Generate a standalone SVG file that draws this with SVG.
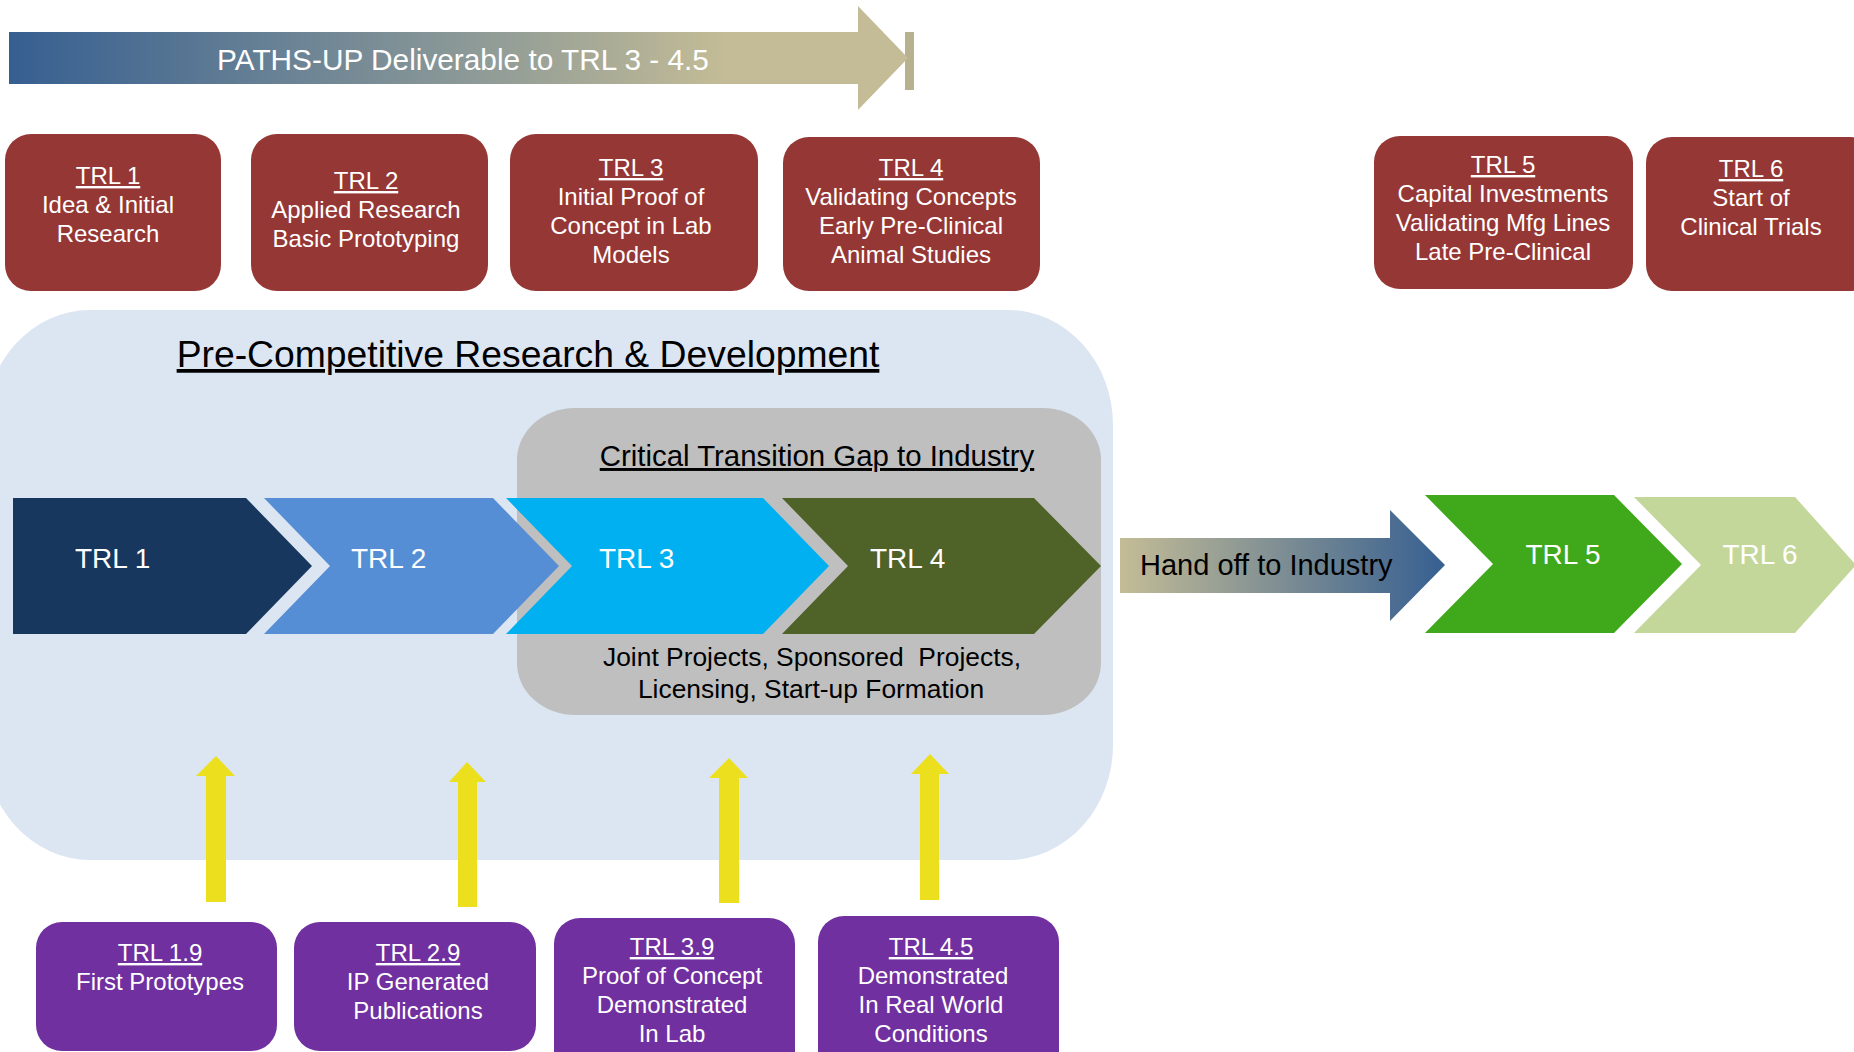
<svg xmlns="http://www.w3.org/2000/svg" width="1854" height="1052" viewBox="0 0 1854 1052">
<style>
text{font-family:"Liberation Sans",Arial,sans-serif}
.red{fill:#953735}
.pur{fill:#7030a0}
.bt{fill:#fff;font-size:24px;text-anchor:middle}
.u{text-decoration:underline}
.chev{fill:#fff;font-size:28px}
.yel{fill:#ebdf1e}
</style>
<defs>
<linearGradient id="gTop" gradientUnits="userSpaceOnUse" x1="9" y1="0" x2="908" y2="0">
<stop offset="0" stop-color="#365f91"/>
<stop offset="0.5" stop-color="#8a9897"/>
<stop offset="0.8" stop-color="#c4bc96"/>
<stop offset="1" stop-color="#c4bc96"/>
</linearGradient>
<linearGradient id="gHand" gradientUnits="userSpaceOnUse" x1="1120" y1="0" x2="1445" y2="0">
<stop offset="0" stop-color="#c4bc96"/>
<stop offset="1" stop-color="#365f91"/>
</linearGradient>
</defs>
<rect width="1854" height="1052" fill="#fff"/>

<g id="paths-up-arrow">
<rect x="905" y="32" width="9" height="58" fill="#b8b190"/>
<path d="M9,32 H858 V6 L908,58 L858,110 V84 H9 Z" fill="url(#gTop)"/>
<text x="463" y="70" fill="#fff" font-size="29.8" text-anchor="middle">PATHS-UP Deliverable to TRL 3 - 4.5</text>
</g>

<g id="box-trl1">
<rect class="red" x="5" y="134" width="216" height="157" rx="26"/>
<text class="bt"><tspan class="u" x="108" y="184">TRL 1</tspan><tspan x="108" y="213">Idea &amp; Initial</tspan><tspan x="108" y="242">Research</tspan></text>
</g>
<g id="box-trl2">
<rect class="red" x="251" y="134" width="237" height="157" rx="26"/>
<text class="bt"><tspan class="u" x="366" y="189">TRL 2</tspan><tspan x="366" y="218">Applied Research</tspan><tspan x="366" y="247">Basic Prototyping</tspan></text>
</g>
<g id="box-trl3">
<rect class="red" x="510" y="134" width="248" height="157" rx="26"/>
<text class="bt"><tspan class="u" x="631" y="176">TRL 3</tspan><tspan x="631" y="205">Initial Proof of</tspan><tspan x="631" y="234">Concept in Lab</tspan><tspan x="631" y="263">Models</tspan></text>
</g>
<g id="box-trl4">
<rect class="red" x="783" y="137" width="257" height="154" rx="26"/>
<text class="bt"><tspan class="u" x="911" y="176">TRL 4</tspan><tspan x="911" y="205">Validating Concepts</tspan><tspan x="911" y="234">Early Pre-Clinical</tspan><tspan x="911" y="263">Animal Studies</tspan></text>
</g>
<g id="box-trl5">
<rect class="red" x="1374" y="136" width="259" height="153" rx="26"/>
<text class="bt"><tspan class="u" x="1503" y="173">TRL 5</tspan><tspan x="1503" y="202">Capital Investments</tspan><tspan x="1503" y="231">Validating Mfg Lines</tspan><tspan x="1503" y="260">Late Pre-Clinical</tspan></text>
</g>
<g id="box-trl6">
<rect class="red" x="1646" y="137" width="230" height="154" rx="26"/>
<text class="bt"><tspan class="u" x="1751" y="177">TRL 6</tspan><tspan x="1751" y="206">Start of</tspan><tspan x="1751" y="235">Clinical Trials</tspan></text>
</g>

<g id="pre-competitive">
<rect x="-15" y="310" width="1128" height="550" rx="105" ry="115" fill="#dce6f2"/>
<text x="528" y="367" font-size="37.3" text-anchor="middle" fill="#000" class="u">Pre-Competitive Research &amp; Development</text>
</g>

<g id="transition-gap">
<rect x="517" y="408" width="584" height="307" rx="58" ry="52" fill="#bfbfbf"/>
<text x="817" y="466" font-size="29.4" text-anchor="middle" fill="#000" class="u">Critical Transition Gap to Industry</text>
<text font-size="26.4" text-anchor="middle" fill="#000" xml:space="preserve"><tspan x="812" y="666">Joint Projects, Sponsored  Projects,</tspan><tspan x="811" y="698">Licensing, Start-up Formation</tspan></text>
</g>

<g id="chev-trl1">
<path d="M13,498 H246 L312,566 L246,634 H13 Z" fill="#17375e"/>
<text class="chev" x="75" y="568">TRL 1</text>
</g>
<g id="chev-trl2">
<path d="M264,498 H493 L559,566 L493,634 H264 L330,566 Z" fill="#558ed5"/>
<text class="chev" x="351" y="568">TRL 2</text>
</g>
<g id="chev-trl3">
<path d="M506,498 H763 L829,566 L763,634 H506 L572,566 Z" fill="#00b0f0"/>
<text class="chev" x="599" y="568">TRL 3</text>
</g>
<g id="chev-trl4">
<path d="M782,498 H1034 L1101,566 L1034,634 H782 L848,566 Z" fill="#4f6228"/>
<text class="chev" x="870" y="568">TRL 4</text>
</g>

<g id="hand-off">
<path d="M1120,538 H1390 V510 L1445,565 L1390,621 V593 H1120 Z" fill="url(#gHand)"/>
<text x="1140" y="575" font-size="29" fill="#000">Hand off to Industry</text>
</g>

<g id="chev-trl5">
<path d="M1425,495 H1614 L1682,564 L1614,633 H1425 L1493,564 Z" fill="#40a91b"/>
<text class="chev" x="1563" y="564" text-anchor="middle">TRL 5</text>
</g>
<g id="chev-trl6">
<path d="M1634,497 H1795 L1856,565 L1795,633 H1634 L1701,565 Z" fill="#c4d79b"/>
<text class="chev" x="1760" y="564" text-anchor="middle">TRL 6</text>
</g>

<g id="connectors">
<path class="yel" d="M206,902 V776 H196 L216,756 L235,776 H226 V902 Z"/>
<path class="yel" d="M458,907 V782 H449 L467,762 L486,782 H477 V907 Z"/>
<path class="yel" d="M719,903 V778 H709 L729,758 L748,778 H739 V903 Z"/>
<path class="yel" d="M920,900 V774 H911 L930,754 L949,774 H939 V900 Z"/>
</g>

<g id="box-trl19">
<rect class="pur" x="36" y="922" width="241" height="129" rx="26"/>
<text class="bt"><tspan class="u" x="160" y="961">TRL 1.9</tspan><tspan x="160" y="990">First Prototypes</tspan></text>
</g>
<g id="box-trl29">
<rect class="pur" x="294" y="922" width="242" height="129" rx="26"/>
<text class="bt"><tspan class="u" x="418" y="961">TRL 2.9</tspan><tspan x="418" y="990">IP Generated</tspan><tspan x="418" y="1019">Publications</tspan></text>
</g>
<g id="box-trl39">
<rect class="pur" x="554" y="918" width="241" height="160" rx="26"/>
<text class="bt"><tspan class="u" x="672" y="955">TRL 3.9</tspan><tspan x="672" y="984">Proof of Concept</tspan><tspan x="672" y="1013">Demonstrated</tspan><tspan x="672" y="1042">In Lab</tspan></text>
</g>
<g id="box-trl45">
<rect class="pur" x="818" y="916" width="241" height="160" rx="26"/>
<text class="bt"><tspan class="u" x="931" y="955">TRL 4.5</tspan><tspan x="933" y="984">Demonstrated</tspan><tspan x="931" y="1013">In Real World</tspan><tspan x="931" y="1042">Conditions</tspan></text>
</g>
</svg>
